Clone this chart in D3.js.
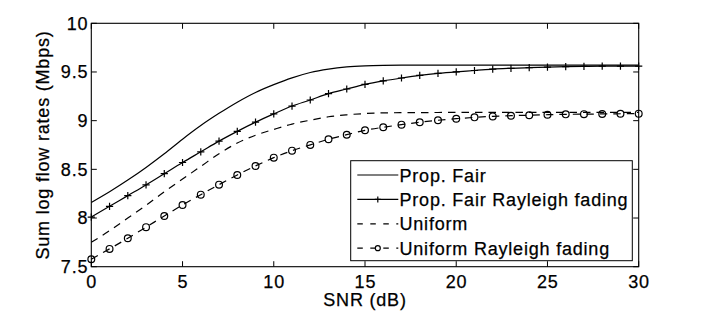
<!DOCTYPE html>
<html>
<head>
<meta charset="utf-8">
<style>
    body { margin: 0; background: #fff; }
    svg text { font-family: "Liberation Sans", Arial, sans-serif; font-size: 18px; letter-spacing: 0.8px; fill: #000; stroke: #000; stroke-width: 0.25px; }
</style>
</head>
<body>
<svg id="chart" width="706" height="320"></svg>
<script src="https://d3js.org/d3.v7.min.js"></script>
<script>
    // SNR values (dB)
    const snr = [0, 1, 2, 3, 4, 5, 6, 7, 8, 9, 10, 11, 12, 13, 14, 15,
                 16, 17, 18, 19, 20, 21, 22, 23, 24, 25, 26, 27, 28, 29, 30];

    const propFair = [8.16, 8.27, 8.39, 8.52, 8.66, 8.81, 8.95, 9.075, 9.19, 9.29, 9.37,
                      9.44, 9.495, 9.53, 9.552, 9.563, 9.568, 9.57, 9.57, 9.57, 9.57,
                      9.57, 9.57, 9.57, 9.57, 9.57, 9.57, 9.57, 9.57, 9.57, 9.57];

    const propFairRF = [8.01, 8.12, 8.23, 8.34, 8.455, 8.57, 8.68, 8.79, 8.89, 8.985, 9.07,
                        9.15, 9.212, 9.277, 9.325, 9.372, 9.408, 9.438, 9.465, 9.486, 9.502,
                        9.515, 9.53, 9.538, 9.544, 9.55, 9.555, 9.558, 9.56, 9.56, 9.56];

    const uniform = [7.75, 7.87, 8.0, 8.13, 8.27, 8.40, 8.53, 8.66, 8.77, 8.85, 8.91,
                     8.965, 9.005, 9.04, 9.06, 9.073, 9.08, 9.082, 9.083, 9.084, 9.085,
                     9.085, 9.085, 9.085, 9.085, 9.085, 9.085, 9.085, 9.085, 9.085, 9.085];

    const uniformRF = [7.577, 7.683, 7.792, 7.906, 8.021, 8.134, 8.24, 8.343, 8.442, 8.535, 8.62,
                       8.692, 8.751, 8.809, 8.856, 8.901, 8.932, 8.959, 8.984, 9.004, 9.02,
                       9.034, 9.044, 9.051, 9.056, 9.061, 9.065, 9.067, 9.069, 9.071, 9.072];

    const xTicks = [0, 5, 10, 15, 20, 25, 30];
    const yTicks = [7.5, 8, 8.5, 9, 9.5, 10];
    const legendNames = ["Prop. Fair", "Prop. Fair Rayleigh fading", "Uniform", "Uniform Rayleigh fading"];

    const svg = d3.select("#chart");
    const pLeft = 91.3, pRight = 638.7, pTop = 23.3, pBottom = 266.7;

    const x = d3.scaleLinear().domain([0, 30]).range([pLeft, pRight]);
    const y = d3.scaleLinear().domain([7.5, 10]).range([pBottom, pTop]);

    const tickLen = 5.5;

    // frame
    svg.append("rect")
       .attr("x", pLeft).attr("y", pTop)
       .attr("width", pRight - pLeft).attr("height", pBottom - pTop)
       .attr("fill", "none").attr("stroke", "#000").attr("stroke-width", 1.1);

    // ticks (inside, on all four sides)
    const ticks = svg.append("g").attr("stroke", "#000").attr("stroke-width", 1);
    xTicks.forEach(t => {
        ticks.append("line").attr("x1", x(t)).attr("x2", x(t)).attr("y1", pBottom).attr("y2", pBottom - tickLen);
        ticks.append("line").attr("x1", x(t)).attr("x2", x(t)).attr("y1", pTop).attr("y2", pTop + tickLen);
    });
    yTicks.forEach(t => {
        ticks.append("line").attr("x1", pLeft).attr("x2", pLeft + tickLen).attr("y1", y(t)).attr("y2", y(t));
        ticks.append("line").attr("x1", pRight).attr("x2", pRight - tickLen).attr("y1", y(t)).attr("y2", y(t));
    });

    // tick labels
    svg.append("g").selectAll("text")
       .data(xTicks).enter().append("text")
       .attr("x", d => x(d) + 0.4).attr("y", 288)
       .attr("text-anchor", "middle")
       .text(d => d);

    svg.append("g").selectAll("text")
       .data(yTicks).enter().append("text")
       .attr("x", 88.3).attr("y", d => y(d) + 6.4)
       .attr("text-anchor", "end")
       .text(d => d);

    // axis titles
    svg.append("text")
       .attr("x", (pLeft + pRight) / 2).attr("y", 305.5)
       .attr("text-anchor", "middle")
       .text("SNR (dB)");

    svg.append("text")
       .attr("transform", `translate(48.5,${(pTop + pBottom) / 2}) rotate(-90)`)
       .attr("text-anchor", "middle")
       .text("Sum log flow rates (Mbps)");

    // lines
    const line = vals => d3.line()
        .x((d, i) => x(snr[i]))
        .y(d => y(d))
        .curve(d3.curveMonotoneX)(vals);

    const dash = "7.5,6";
    const series = [
        {vals: propFair, dash: null, marker: null},
        {vals: propFairRF, dash: null, marker: "plus"},
        {vals: uniform, dash: dash, marker: null},
        {vals: uniformRF, dash: dash, marker: "circle"}
    ];

    const plot = svg.append("g");
    series.forEach(s => {
        plot.append("path")
            .attr("d", line(s.vals))
            .attr("fill", "none")
            .attr("stroke", "#000")
            .attr("stroke-width", 1.2)
            .attr("stroke-dasharray", s.dash);
    });

    // markers
    function plus(g, cx, cy, r) {
        g.append("path")
         .attr("d", `M${cx - r},${cy}H${cx + r}M${cx},${cy - r}V${cy + r}`)
         .attr("stroke", "#000").attr("stroke-width", 1.2).attr("fill", "none");
    }
    function circle(g, cx, cy, r) {
        g.append("circle")
         .attr("cx", cx).attr("cy", cy).attr("r", r)
         .attr("stroke", "#000").attr("stroke-width", 1.2).attr("fill", "none");
    }

    snr.forEach((s, i) => {
        plus(plot, x(s), y(propFairRF[i]), 3.6);
        circle(plot, x(s), y(uniformRF[i]), 3.4);
    });

    // legend
    const lg = svg.append("g");
    lg.append("rect")
      .attr("x", 350.7).attr("y", 160.7)
      .attr("width", 281.6).attr("height", 100)
      .attr("fill", "#fff").attr("stroke", "#000").attr("stroke-width", 1);

    const rowY = [175, 199.4, 223.8, 248.2];
    legendNames.forEach((name, i) => {
        const s = series[i];
        lg.append("line")
          .attr("x1", 357.3).attr("x2", 398.3)
          .attr("y1", rowY[i]).attr("y2", rowY[i])
          .attr("stroke", "#000").attr("stroke-width", 1.2)
          .attr("stroke-dasharray", s.dash ? "5.5,7.5" : null);
        if (s.marker === "plus") plus(lg, 377.8, rowY[i], 3);
        if (s.marker === "circle") circle(lg, 377.8, rowY[i], 2.5);
        lg.append("text")
          .attr("x", 399.5).attr("y", rowY[i] + 6.5)
          .text(name);
    });
</script>
</body>
</html>
